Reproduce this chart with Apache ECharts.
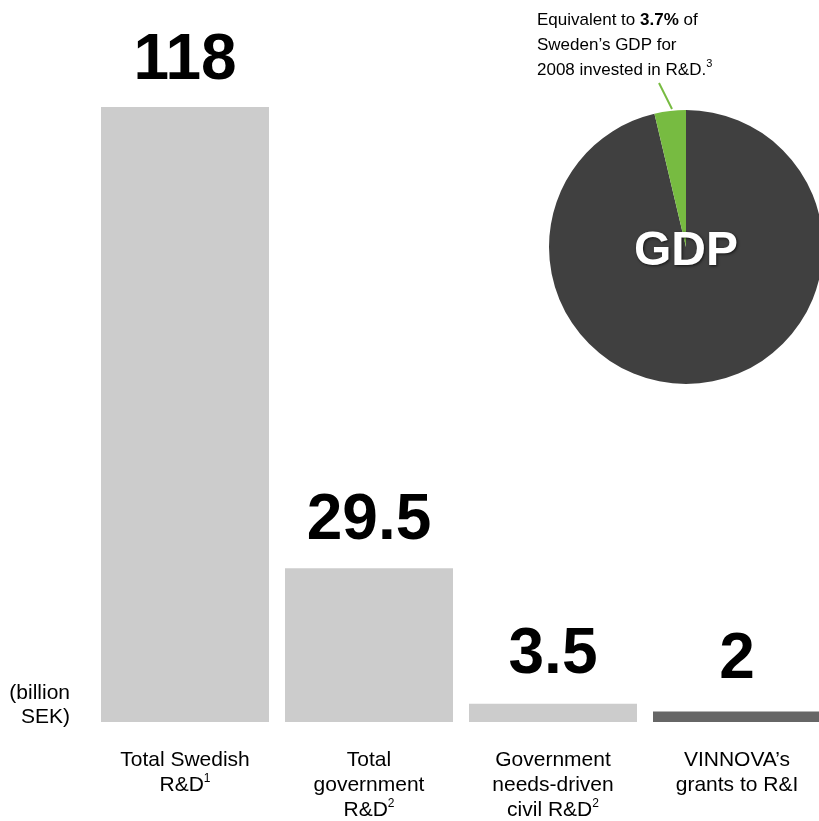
<!DOCTYPE html>
<html><head><meta charset="utf-8">
<script src="https://cdn.jsdelivr.net/npm/echarts@6/dist/echarts.min.js"></script>
<style>html,body{margin:0;padding:0;background:#fff}#c{width:819px;height:821px}</style>
</head><body><div id="c"></div>
<script>
const categories = ['Total Swedish\nR&D{s|1}', 'Total\ngovernment\nR&D{s|2}', 'Government\nneeds-driven\ncivil R&D{s|2}', 'VINNOVA’s\ngrants to R&I'];
const values = [118, 29.5, 3.5, 2];
const valueLabels = ['118', '29.5', '3.5', '2'];
const barColors = ['#cccccc', '#cccccc', '#cccccc', '#666666'];
const labelGaps = [14, 15, 16, 19];
const gdpShare = [96.3, 3.7];
const pieColors = ['#404040', '#77bb41'];

const chart = echarts.init(document.getElementById('c'));
const F = 'Liberation Sans, Arial, sans-serif';
chart.setOption({
  animation: false,
  grid: {left: 93, width: 736, top: 107, bottom: 99, containLabel: false, outerBoundsMode: 'none'},
  xAxis: {
    type: 'category', data: categories,
    axisLine: {show: false}, axisTick: {show: false},
    axisLabel: {
      margin: 26, color: '#000', fontFamily: F, fontSize: 21, lineHeight: 25, interval: 0,
      rich: {s: {fontSize: 12, verticalAlign: 'top', lineHeight: 25, padding: [0,0,9,0], fontFamily: F, color: '#000'}}
    }
  },
  yAxis: {type: 'value', min: 0, max: 118, show: false, splitLine: {show: false}},
  series: [{
    type: 'bar', barWidth: 168,
    data: values.map((v, i) => ({value: v, itemStyle: {color: barColors[i]}, label: {formatter: valueLabels[i], distance: labelGaps[i]}})),
    label: {show: true, position: 'top', color: '#000', fontFamily: F, fontWeight: 'bold', fontSize: 64}
  }, {
    type: 'pie', center: [686, 247], radius: 137, startAngle: 90, clockwise: true,
    label: {show: false}, labelLine: {show: false}, silent: true,
    itemStyle: {borderWidth: 0},
    data: gdpShare.map((v, i) => ({value: v, itemStyle: {color: pieColors[i]}}))
  }],
  graphic: [
    {type: 'text', x: 686, y: 252, z: 100, style: {text: 'GDP', align: 'center', verticalAlign: 'middle',
      font: 'bold 48px ' + F, fill: '#fff', textShadowColor: 'rgba(0,0,0,0.7)', textShadowBlur: 3, textShadowOffsetX: 1, textShadowOffsetY: 1}},
    {type: 'text', x: 70, y: 705, style: {text: '(billion\nSEK)', align: 'right', verticalAlign: 'middle', font: '21px ' + F, lineHeight: 24, fill: '#000'}},
    {type: 'text', x: 537, y: 8, style: {
      text: 'Equivalent to {b|3.7%} of\nSweden’s GDP for\n2008 invested in R&D.{s|3}',
      font: '17px ' + F, lineHeight: 25, fill: '#000',
      rich: {b: {fontWeight: 'bold', fontSize: 17, fontFamily: F, lineHeight: 25}, s: {fontSize: 11, fontFamily: F, verticalAlign: 'top', lineHeight: 25, padding: [0,0,8,0]}}
    }},
    {type: 'line', shape: {x1: 659, y1: 83, x2: 672, y2: 109}, style: {stroke: '#77bb41', lineWidth: 2}}
  ]
});
</script></body></html>
